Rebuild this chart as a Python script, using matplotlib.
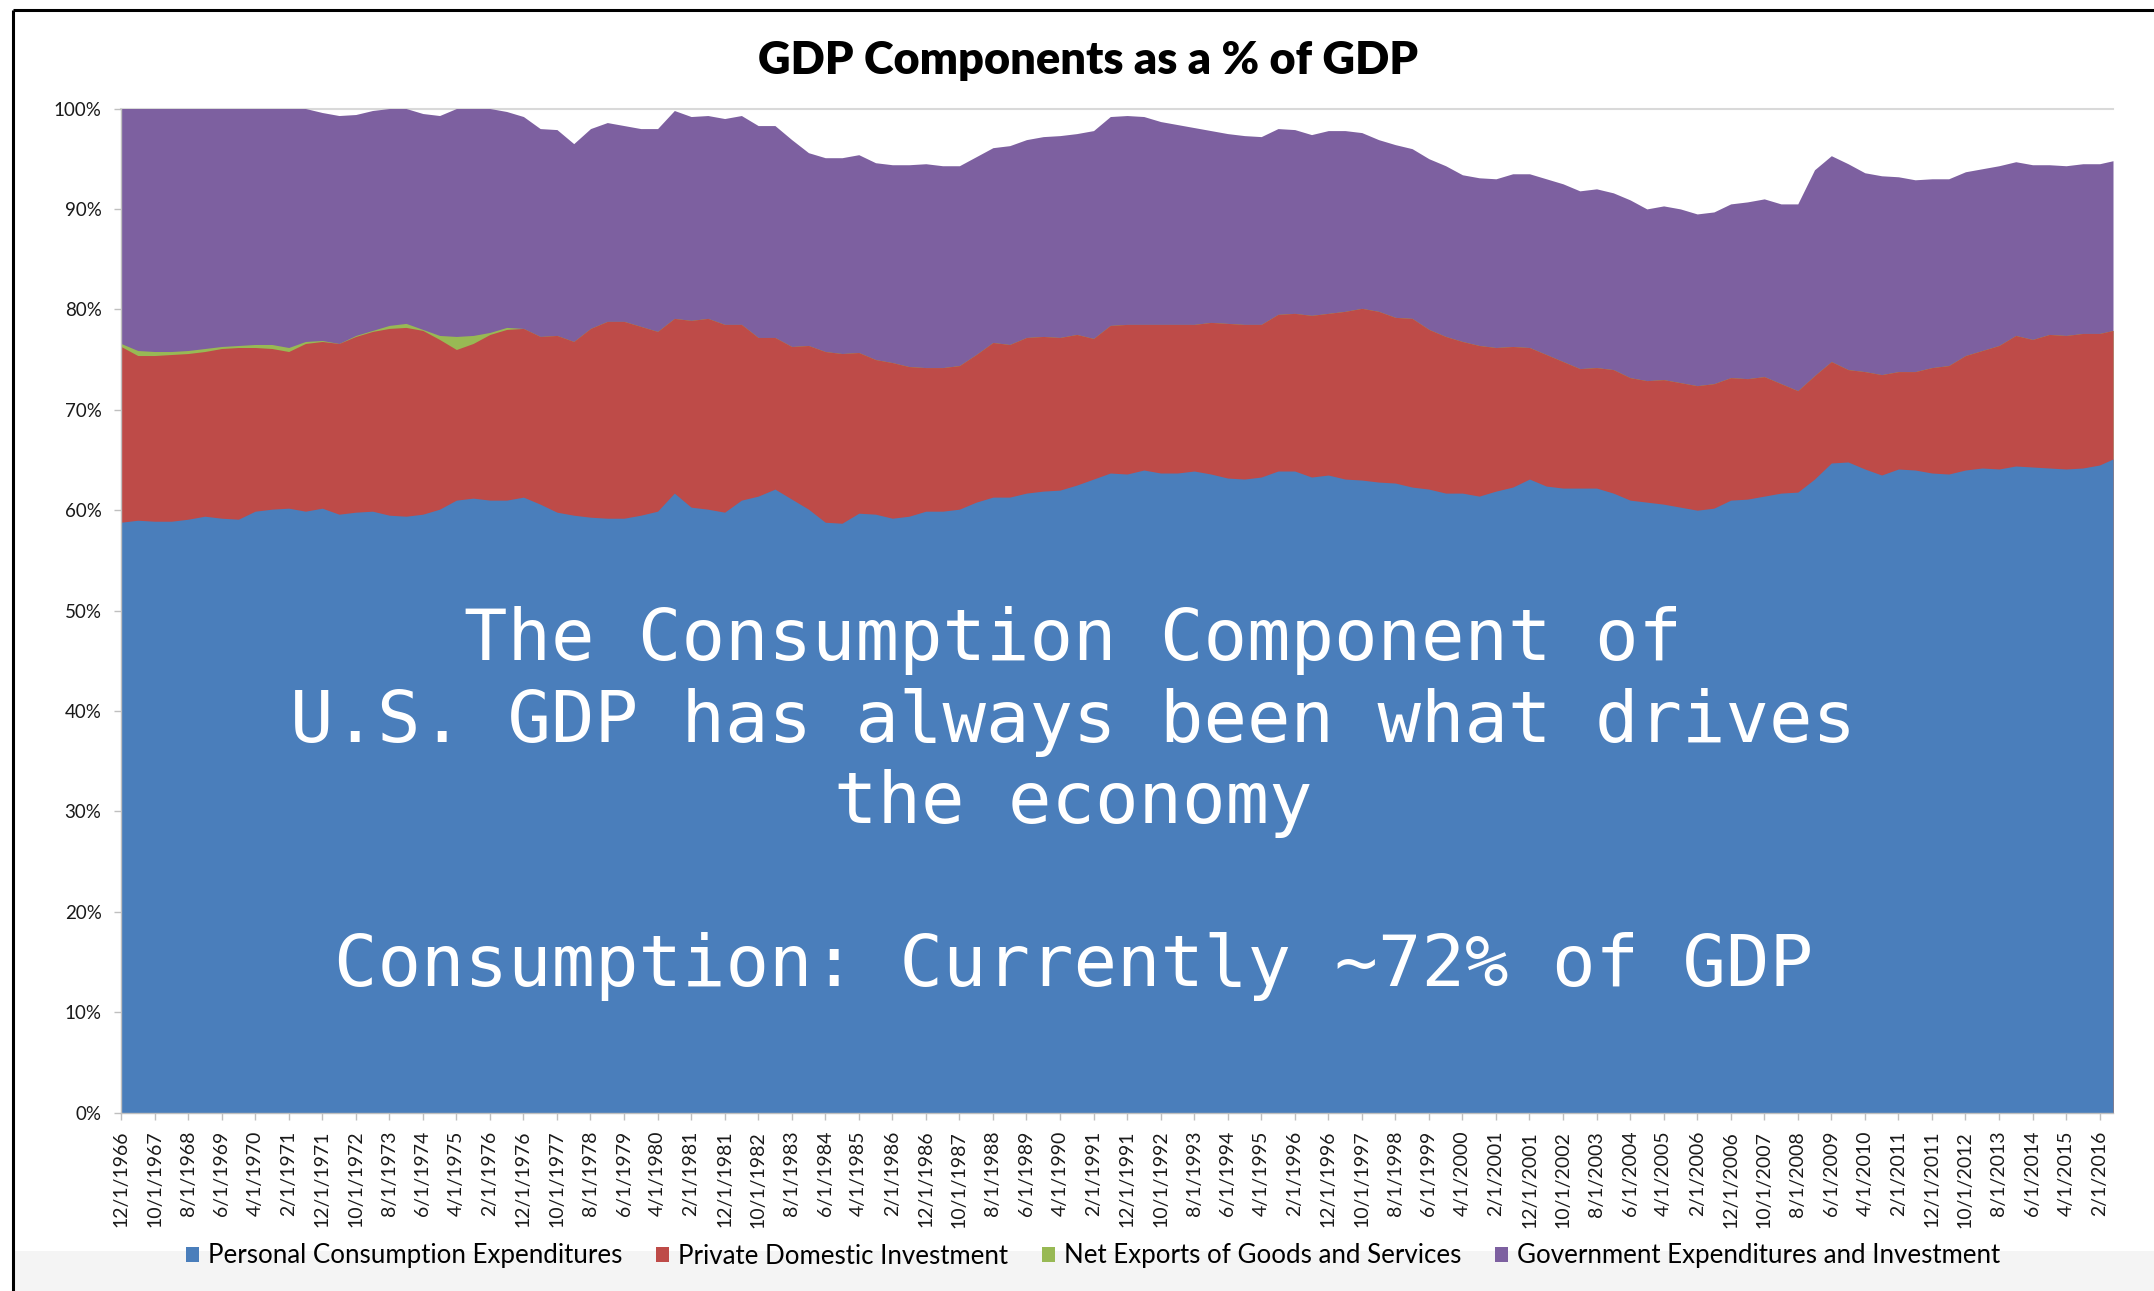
import numpy as np
import pandas as pd
import matplotlib
matplotlib.use("Agg")
import matplotlib.pyplot as plt
from matplotlib.patches import Patch, Rectangle
from matplotlib.lines import Line2D
import matplotlib.transforms as mtransforms

# ---------------------------------------------------------------------------
# Data: GDP components as a share of GDP (%), sampled every 5 months
# from Dec 1966, plus the final observation (Jun 2016)
# ---------------------------------------------------------------------------
dates = list(pd.date_range("1966-12-01", periods=119, freq="5MS")) + [pd.Timestamp("2016-06-01")]

pce = [58.8, 59.0, 58.9, 58.9, 59.1, 59.4, 59.2, 59.1, 59.9, 60.1,
       60.2, 59.9, 60.2, 59.6, 59.8, 59.9, 59.5, 59.4, 59.6, 60.1,
       61.0, 61.2, 61.0, 61.0, 61.3, 60.6, 59.8, 59.5, 59.3, 59.2,
       59.2, 59.5, 59.9, 61.7, 60.3, 60.1, 59.8, 61.0, 61.4, 62.1,
       61.1, 60.1, 58.8, 58.7, 59.7, 59.6, 59.2, 59.4, 59.9, 59.9,
       60.1, 60.8, 61.3, 61.3, 61.7, 61.9, 62.0, 62.5, 63.1, 63.7,
       63.6, 64.0, 63.7, 63.7, 63.9, 63.6, 63.2, 63.1, 63.3, 63.9,
       63.9, 63.3, 63.5, 63.1, 63.0, 62.8, 62.7, 62.3, 62.1, 61.7,
       61.7, 61.4, 61.9, 62.3, 63.1, 62.4, 62.2, 62.2, 62.2, 61.7,
       61.0, 60.8, 60.6, 60.3, 60.0, 60.2, 61.0, 61.1, 61.4, 61.7,
       61.8, 63.1, 64.7, 64.8, 64.1, 63.5, 64.1, 64.0, 63.7, 63.6,
       64.0, 64.2, 64.1, 64.4, 64.3, 64.2, 64.1, 64.2, 64.5, 65.1]

pdi = [17.5, 16.4, 16.5, 16.6, 16.5, 16.4, 16.9, 17.1, 16.3, 16.0,
       15.6, 16.7, 16.6, 17.0, 17.5, 17.9, 18.6, 18.8, 18.3, 16.9,
       15.0, 15.4, 16.5, 17.0, 16.8, 16.7, 17.6, 17.3, 18.8, 19.6,
       19.6, 18.8, 17.9, 17.4, 18.6, 19.0, 18.7, 17.5, 15.8, 15.1,
       15.2, 16.3, 17.0, 16.9, 16.0, 15.4, 15.5, 14.9, 14.3, 14.3,
       14.3, 14.7, 15.4, 15.2, 15.5, 15.4, 15.2, 15.0, 14.0, 14.7,
       14.9, 14.5, 14.8, 14.8, 14.6, 15.1, 15.4, 15.4, 15.2, 15.6,
       15.7, 16.1, 16.1, 16.7, 17.1, 17.0, 16.5, 16.8, 15.9, 15.6,
       15.1, 15.0, 14.3, 14.0, 13.1, 13.1, 12.6, 11.9, 12.0, 12.3,
       12.2, 12.1, 12.4, 12.4, 12.4, 12.4, 12.2, 12.0, 11.9, 10.9,
       10.1, 10.3, 10.1, 9.2, 9.7, 10.0, 9.7, 9.8, 10.5, 10.8,
       11.4, 11.7, 12.3, 13.0, 12.7, 13.3, 13.3, 13.4, 13.1, 12.8]

nx = [0.3, 0.5, 0.4, 0.3, 0.3, 0.3, 0.2, 0.2, 0.3, 0.4,
      0.4, 0.2, 0.1, 0.0, 0.1, 0.1, 0.3, 0.4, 0.1, 0.4,
      1.3, 0.8, 0.2, 0.2, 0.0, 0.0, 0.0, 0.0, 0.0, 0.0,
      0.0, 0.0, 0.0, 0.0, 0.0, 0.0, 0.0, 0.0, 0.0, 0.0,
      0.0, 0.0, 0.0, 0.0, 0.0, 0.0, 0.0, 0.0, 0.0, 0.0,
      0.0, 0.0, 0.0, 0.0, 0.0, 0.0, 0.0, 0.0, 0.0, 0.0,
      0.0, 0.0, 0.0, 0.0, 0.0, 0.0, 0.0, 0.0, 0.0, 0.0,
      0.0, 0.0, 0.0, 0.0, 0.0, 0.0, 0.0, 0.0, 0.0, 0.0,
      0.0, 0.0, 0.0, 0.0, 0.0, 0.0, 0.0, 0.0, 0.0, 0.0,
      0.0, 0.0, 0.0, 0.0, 0.0, 0.0, 0.0, 0.0, 0.0, 0.0,
      0.0, 0.0, 0.0, 0.0, 0.0, 0.0, 0.0, 0.0, 0.0, 0.0,
      0.0, 0.0, 0.0, 0.0, 0.0, 0.0, 0.0, 0.0, 0.0, 0.0]

gov = [23.4, 24.1, 24.2, 24.2, 24.1, 23.9, 23.7, 23.6, 23.5, 23.5,
       23.8, 23.2, 22.7, 22.7, 22.0, 21.9, 21.6, 21.4, 21.5, 21.9,
       22.7, 22.6, 22.3, 21.5, 21.1, 20.7, 20.5, 19.7, 19.9, 19.8,
       19.5, 19.7, 20.2, 20.7, 20.3, 20.2, 20.5, 20.8, 21.1, 21.1,
       20.6, 19.2, 19.3, 19.5, 19.7, 19.6, 19.7, 20.1, 20.3, 20.1,
       19.9, 19.7, 19.4, 19.8, 19.7, 19.9, 20.1, 20.0, 20.7, 20.8,
       20.8, 20.7, 20.2, 19.9, 19.6, 19.1, 18.9, 18.8, 18.7, 18.5,
       18.3, 18.0, 18.2, 18.0, 17.5, 17.1, 17.2, 16.9, 17.0, 17.0,
       16.6, 16.7, 16.8, 17.2, 17.3, 17.5, 17.7, 17.7, 17.8, 17.6,
       17.7, 17.1, 17.3, 17.3, 17.1, 17.1, 17.3, 17.6, 17.7, 17.9,
       18.6, 20.5, 20.5, 20.5, 19.8, 19.8, 19.4, 19.1, 18.8, 18.6,
       18.3, 18.1, 17.9, 17.3, 17.4, 16.9, 16.9, 16.9, 16.9, 16.9]

series_names = ["Personal Consumption Expenditures",
                "Private Domestic Investment",
                "Net Exports of Goods and Services",
                "Government Expenditures and Investment"]
series_colors = ["#4A7EBB", "#BE4B48", "#98B954", "#7D60A0"]

# Category axis labels: one every 10 months
tick_dates = pd.date_range("1966-12-01", "2016-02-01", freq="10MS")

annotation_lines = ["The Consumption Component of",
                    "U.S. GDP has always been what drives",
                    "the economy",
                    "Consumption: Currently ~72% of GDP"]
annotation_baselines = [45.1, 36.9, 28.8, 12.6]

# ---------------------------------------------------------------------------
def month_index(d):
    return (d.year - 1966) * 12 + d.month - 12

x = np.array([month_index(d) for d in dates])
stack = np.cumsum(np.vstack([pce, pdi, nx, gov]), axis=0)

W, H = 2154, 1291
fig = plt.figure(figsize=(W / 100, H / 100), dpi=100)
fig.patch.set_facecolor("white")

ax = fig.add_axes([121 / W, 178.3 / H, 1992 / W, 1004.2 / H])

# draw each layer from zero up to its cumulative total, top layer first
for i in reversed(range(4)):
    ax.fill_between(x, 0, stack[i], color=series_colors[i], linewidth=0, zorder=2)

ax.axhline(100, color="#d9d9d9", lw=1.5, zorder=1, clip_on=False)

ax.set_xlim(0, 594)
ax.set_ylim(0, 100)

ax.set_yticks(np.arange(0, 101, 10))
ax.set_yticklabels([f"{v}%" for v in range(0, 101, 10)], family="Lato", fontsize=13.5,
                   color="#1a1a1a")
ax.set_xticks([month_index(d) for d in tick_dates])
ax.set_xticklabels([f"{d.month}/{d.day}/{d.year}" for d in tick_dates],
                   family="Lato", fontsize=14, color="#1a1a1a", rotation=90)

ax.tick_params(axis="y", length=5, width=1, color="#bfbfbf", pad=9)
ax.tick_params(axis="x", length=5, width=1, color="#bfbfbf", pad=8)

for side in ("top", "right"):
    ax.spines[side].set_visible(False)
for side in ("left", "bottom"):
    ax.spines[side].set_color("#bfbfbf")
    ax.spines[side].set_linewidth(1)
    ax.spines[side].set_zorder(3)

trans = mtransforms.blended_transform_factory(ax.transAxes, ax.transData)
for line, yb in zip(annotation_lines, annotation_baselines):
    ax.text(0.478, yb, line, transform=trans, ha="center", va="baseline",
            family="DejaVu Sans Mono", fontsize=52, color="white", zorder=5)

fig.text(1088 / W, 1 - 74 / H, "GDP Components as a % of GDP", ha="center", va="baseline",
         family="Lato", fontweight="heavy", fontsize=32.5, color="black")

# light band along the bottom edge
fig.add_artist(Rectangle((14 / W, 0), 1, 40 / H, transform=fig.transFigure,
                         facecolor="#f4f4f4", edgecolor="none", zorder=0))

handles = [Patch(facecolor=c, edgecolor="none") for c in series_colors]
fig.legend(handles, series_names, loc="center", bbox_to_anchor=(1093 / W, 1 - 1256 / H),
           ncol=4, frameon=False, prop={"family": "Lato", "size": 18.6},
           handlelength=0.5, handleheight=0.5, handletextpad=0.35, columnspacing=1.3)

# black frame on the left and top
fig.add_artist(Line2D([13 / W, 13 / W], [0, 1 - 10 / H], transform=fig.transFigure,
                      color="black", lw=2.2, solid_capstyle="butt"))
fig.add_artist(Line2D([13 / W, 1], [1 - 10 / H, 1 - 10 / H], transform=fig.transFigure,
                      color="black", lw=2.2, solid_capstyle="butt"))

fig.savefig("out.png", dpi=100)
